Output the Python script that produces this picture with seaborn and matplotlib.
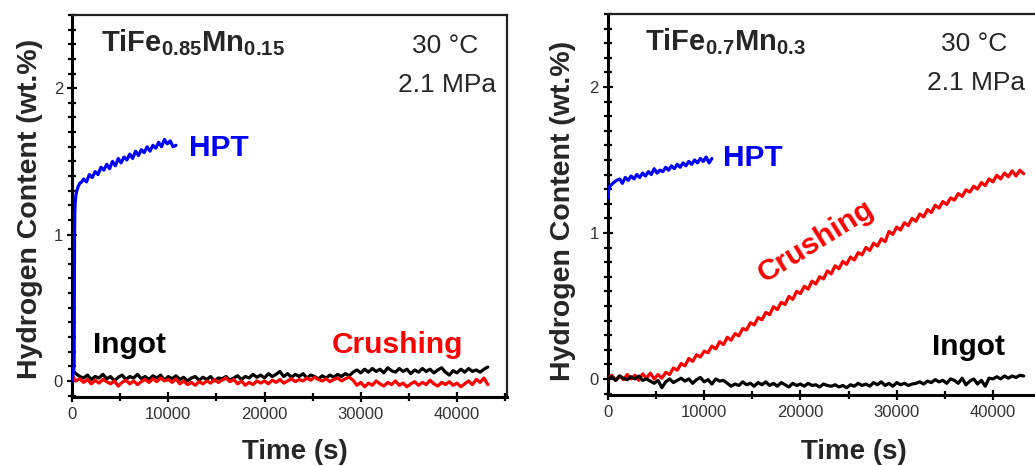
import numpy as np
import matplotlib
matplotlib.use("Agg")
import matplotlib.pyplot as plt
from matplotlib.ticker import MultipleLocator
import seaborn as sns

# ---------------------------------------------------------------------------
# Hydrogen absorption kinetics at 30 °C / 2.1 MPa (wt.% H vs. time in s)
# Ingot and crushed samples are logged every 400 s; HPT runs start densely.
# ---------------------------------------------------------------------------
time_step_s = 400
time_s = np.arange(0, 43201, time_step_s)

# TiFe0.85Mn0.15
left_ingot = [
    0.08, 0.05, 0.03, 0.02, 0.04, 0.01, 0.03, 0.02, 0.045, 0.015,
    0.03, 0.00, 0.025, 0.04, 0.01, 0.03, 0.02, 0.045, 0.015, 0.03,
    0.01, 0.035, 0.02, 0.04, 0.005, 0.03, 0.015, 0.035, 0.01, 0.025,
    0.0, 0.02, 0.03, 0.005, 0.025, 0.01, 0.03, 0.0, 0.02, 0.015,
    0.03, 0.005, 0.02, 0.035, 0.01, 0.03, 0.02, 0.045, 0.025, 0.04,
    0.02, 0.05, 0.03, 0.045, 0.065, 0.03, 0.05, 0.025, 0.045, 0.03,
    0.05, 0.02, 0.04, 0.03, 0.015, 0.035, 0.02, 0.04, 0.025, 0.045,
    0.03, 0.05, 0.035, 0.06, 0.075, 0.055, 0.08, 0.06, 0.085, 0.065,
    0.08, 0.055, 0.09, 0.07, 0.06, 0.085, 0.065, 0.08, 0.05, 0.075,
    0.06, 0.085, 0.065, 0.08, 0.055, 0.075, 0.09, 0.06, 0.04, 0.07,
    0.055, 0.08, 0.06, 0.085, 0.065, 0.075, 0.06, 0.08, 0.095,
]
left_crushing = [
    0.04, 0.0, 0.015, -0.01, 0.01, -0.02, 0.005, -0.015, 0.01, -0.005,
    -0.02, 0.0, -0.035, -0.01, 0.005, -0.02, 0.0, -0.025, -0.005, 0.01,
    -0.01, 0.015, -0.005, 0.02, 0.0, 0.01, -0.01, 0.015, -0.02, 0.0,
    -0.025, -0.01, -0.03, -0.005, -0.02, 0.0, -0.015, 0.01, -0.01, 0.005,
    0.02, -0.005, 0.01, -0.02, 0.0, -0.03, -0.01, -0.025, 0.0, -0.015,
    0.0, -0.02, 0.005, -0.01, 0.01, -0.015, 0.0, 0.015, -0.005, 0.01,
    0.0, 0.02, 0.005, 0.025, 0.01, 0.0, 0.015, -0.005, 0.01, 0.02,
    0.0, 0.015, 0.025, 0.005, -0.03, -0.01, -0.04, -0.015, -0.03, 0.0,
    -0.02, -0.035, -0.01, -0.025, 0.0, -0.03, -0.015, -0.04, -0.02, -0.005,
    -0.03, -0.01, -0.025, 0.005, -0.02, -0.035, -0.01, -0.025, -0.005, -0.03,
    -0.015, -0.04, -0.02, 0.0, -0.025, 0.01, -0.01, 0.02, -0.025,
]
left_hpt_time = [0, 220, 240, 260, 290, 330, 400, 500, 650, 800, 1000] + list(range(1200, 10801, 300))
left_hpt = [
    0.0, 0.10, 0.60, 1.00, 1.15, 1.22, 1.27, 1.30, 1.33, 1.35, 1.36,
    1.38, 1.36, 1.41, 1.39, 1.43, 1.41, 1.46, 1.44, 1.48, 1.45, 1.50, 1.47,
    1.52, 1.49, 1.53, 1.51, 1.55, 1.52, 1.57, 1.54, 1.58, 1.56, 1.60, 1.57,
    1.61, 1.59, 1.63, 1.60, 1.65, 1.62, 1.64, 1.60, 1.61,
]

# TiFe0.7Mn0.3
right_ingot = [
    0.0, 0.015, -0.01, 0.02, 0.005, -0.005, 0.015, 0.0, 0.02, -0.01,
    0.0, -0.015, -0.03, -0.01, -0.06, -0.02, 0.0, -0.025, -0.01, 0.005,
    -0.015, 0.0, -0.03, -0.005, 0.01, -0.02, -0.005, -0.035, 0.0, -0.015,
    -0.01, -0.03, -0.05, -0.035, -0.045, -0.02, -0.04, -0.03, -0.05, -0.025,
    -0.04, -0.02, -0.045, -0.03, -0.05, -0.025, -0.04, -0.055, -0.03, -0.045,
    -0.035, -0.05, -0.03, -0.045, -0.04, -0.055, -0.035, -0.045, -0.05, -0.04,
    -0.055, -0.045, -0.06, -0.04, -0.05, -0.03, -0.045, -0.035, -0.05, -0.025,
    -0.04, -0.02, -0.045, -0.03, -0.05, -0.025, -0.04, -0.03, -0.045, -0.035,
    -0.03, -0.02, -0.035, -0.015, -0.025, -0.005, -0.02, -0.01, -0.03, 0.0,
    -0.01, -0.03, 0.005, -0.04, -0.015, 0.0, -0.035, -0.01, -0.05, 0.005,
    0.0, 0.015, 0.0, 0.02, 0.005, 0.02, 0.01, 0.025, 0.02,
]
right_crushing = [
    0.0, 0.025, -0.01, 0.02, -0.005, 0.03, 0.0, 0.025, -0.01, 0.035,
    0.005, 0.04, 0.0, 0.03, 0.005, 0.045, 0.03, 0.075, 0.06, 0.105,
    0.09, 0.14, 0.12, 0.165, 0.15, 0.19, 0.18, 0.225, 0.205, 0.255,
    0.235, 0.285, 0.265, 0.31, 0.295, 0.345, 0.335, 0.385, 0.37, 0.42,
    0.405, 0.455, 0.44, 0.495, 0.475, 0.525, 0.51, 0.565, 0.545, 0.60,
    0.585, 0.635, 0.615, 0.67, 0.65, 0.70, 0.685, 0.74, 0.72, 0.775,
    0.755, 0.805, 0.785, 0.835, 0.815, 0.865, 0.85, 0.90, 0.88, 0.93,
    0.91, 0.96, 0.94, 1.01, 0.99, 1.04, 1.02, 1.07, 1.05, 1.10,
    1.08, 1.13, 1.11, 1.16, 1.14, 1.19, 1.17, 1.215, 1.195, 1.24,
    1.225, 1.27, 1.25, 1.295, 1.28, 1.32, 1.30, 1.345, 1.325, 1.37,
    1.35, 1.395, 1.37, 1.41, 1.385, 1.425, 1.39, 1.43, 1.405,
]
right_hpt_time = [0, 50, 100, 200, 350, 500, 700, 900] + list(range(1200, 10801, 300))
right_hpt = [
    1.24, 1.28, 1.30, 1.32, 1.33, 1.34, 1.35, 1.36,
    1.37, 1.34, 1.38, 1.36, 1.39, 1.37, 1.40, 1.38, 1.41, 1.39, 1.42, 1.40,
    1.44, 1.41, 1.43, 1.42, 1.45, 1.43, 1.46, 1.44, 1.47, 1.45, 1.48, 1.46,
    1.49, 1.47, 1.50, 1.48, 1.51, 1.49, 1.52, 1.48, 1.51,
]

x_ticks = [0, 10000, 20000, 30000, 40000]
y_ticks = [0, 1, 2]

BLUE = "#0000ff"
RED = "#ff0000"
BLACK = "#000000"

sns.set_theme(style="ticks")
plt.rcParams["font.family"] = ["Liberation Sans", "DejaVu Sans"]
plt.rcParams["mathtext.fontset"] = "custom"
plt.rcParams["mathtext.rm"] = "Liberation Sans:bold"
plt.rcParams["mathtext.bf"] = "Liberation Sans:bold"

fig = plt.figure(figsize=(10.35, 4.66), dpi=100)
ax_l = fig.add_axes([0.0696, 0.148, 0.4203, 0.8197])
ax_r = fig.add_axes([0.5874, 0.1524, 0.4203, 0.8176])


def draw_series(ax, t, y, color):
    sns.lineplot(x=np.asarray(t), y=np.asarray(y), ax=ax, color=color,
                 linewidth=2.3, estimator=None, sort=False, legend=False,
                 zorder=3)


def style_axes(ax):
    ax.set_xlim(0, 45200)
    ax.set_ylim(-0.11, 2.5)
    ax.set_xticks(x_ticks)
    ax.set_xticklabels([str(v) for v in x_ticks])
    ax.set_yticks(y_ticks)
    ax.set_yticklabels([str(v) for v in y_ticks])
    ax.xaxis.set_minor_locator(MultipleLocator(5000))
    ax.yaxis.set_minor_locator(MultipleLocator(0.1))
    ax.tick_params(which="major", direction="inout", length=7, width=1.6,
                   labelsize=12, labelcolor="#333333", color="black")
    ax.tick_params(which="minor", direction="inout", length=5.5, width=1.6,
                   color="black")
    ax.tick_params(axis="x", which="major", pad=4)
    ax.tick_params(axis="y", which="major", pad=3)
    for side in ("left", "bottom"):
        ax.spines[side].set_linewidth(2.2)
        ax.spines[side].set_color("black")
    for side in ("top", "right"):
        ax.spines[side].set_linewidth(1.6)
        ax.spines[side].set_color("#222222")
    ax.set_xlabel("Time (s)", fontsize=20, fontweight="bold")
    ax.set_ylabel("Hydrogen Content (wt.%)", fontsize=20.5, fontweight="bold")
    ax.yaxis.label.set_va("center")
    ax.xaxis.label.set_va("baseline")


# Left panel
draw_series(ax_l, time_s, left_ingot, BLACK)
draw_series(ax_l, time_s, left_crushing, RED)
draw_series(ax_l, left_hpt_time, left_hpt, BLUE)
style_axes(ax_l)
ax_l.xaxis.set_label_coords(0.513, -0.162)
ax_l.yaxis.set_label_coords(-0.097, 0.492)

ax_l.text(0.066, 0.905, r"TiFe$_{0.85}$Mn$_{0.15}$", transform=ax_l.transAxes,
          fontsize=21, fontweight="bold", ha="left", va="baseline")
ax_l.text(0.857, 0.92, "30 °C", transform=ax_l.transAxes,
          fontsize=19, ha="center", va="center")
ax_l.text(0.862, 0.817, "2.1 MPa", transform=ax_l.transAxes,
          fontsize=19, ha="center", va="center")
ax_l.text(12150, 1.536, "HPT", color=BLUE, fontsize=21.5, fontweight="bold",
          ha="left", va="baseline")
ax_l.text(2150, 0.19, "Ingot", color=BLACK, fontsize=21.5, fontweight="bold",
          ha="left", va="baseline")
ax_l.text(26970, 0.19, "Crushing", color=RED, fontsize=21.5, fontweight="bold",
          ha="left", va="baseline")

# Right panel
draw_series(ax_r, time_s, right_crushing, RED)
draw_series(ax_r, time_s, right_ingot, BLACK)
draw_series(ax_r, right_hpt_time, right_hpt, BLUE)
style_axes(ax_r)
ax_r.xaxis.set_label_coords(0.566, -0.168)
ax_r.yaxis.set_label_coords(-0.103, 0.483)

ax_r.text(0.085, 0.905, r"TiFe$_{0.7}$Mn$_{0.3}$", transform=ax_r.transAxes,
          fontsize=21, fontweight="bold", ha="left", va="baseline")
ax_r.text(0.841, 0.92, "30 °C", transform=ax_r.transAxes,
          fontsize=19, ha="center", va="center")
ax_r.text(0.847, 0.82, "2.1 MPa", transform=ax_r.transAxes,
          fontsize=19, ha="center", va="center")
ax_r.text(11950, 1.46, "HPT", color=BLUE, fontsize=21.5, fontweight="bold",
          ha="left", va="baseline")
ax_r.text(33650, 0.164, "Ingot", color=BLACK, fontsize=21.5, fontweight="bold",
          ha="left", va="baseline")
ax_r.text(16320, 0.66, "Crushing", color=RED, fontsize=21.5, fontweight="bold",
          ha="left", va="baseline", rotation=32, rotation_mode="anchor")

fig.savefig("out.png", dpi=100)
